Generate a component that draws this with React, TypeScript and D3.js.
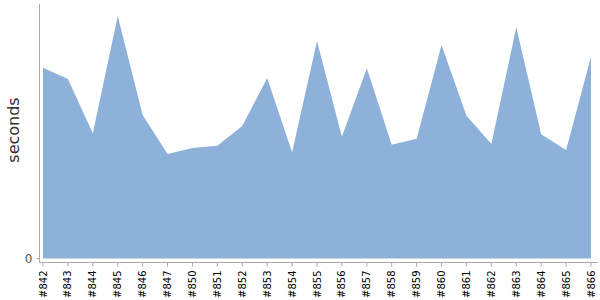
import React from "react";
import * as d3 from "d3";

const builds = ["#842","#843","#844","#845","#846","#847","#850","#851","#852","#853","#854","#855","#856","#857","#858","#859","#860","#861","#862","#863","#864","#865","#866"];
const seconds = [190.8,179.5,125.2,242.5,143.5,104.5,110.5,112.8,132.5,180.5,106.2,217.2,121.8,190.2,113.8,119.8,213.5,142.8,114.5,231.2,124.2,108.5,201.8];
const yTicks = [0];

export default function App() {
  const W = 600, H = 300;
  const axisX = 39.5;
  const x = d3.scalePoint<string>().domain(builds).range([43, 591]);
  const y = d3.scaleLinear().domain([0, 254.5]).range([258.5, 4]);
  const data = builds.map((b, i) => ({ b, v: seconds[i] }));
  const area = d3.area<{ b: string; v: number }>()
    .x(d => x(d.b)!)
    .y0(y(0))
    .y1(d => y(d.v))
    .curve(d3.curveLinear);
  const font = "'DejaVu Sans', Verdana, sans-serif";
  const xAxisY = 262.5;
  return (
    <svg width={W} height={H} style={{ position: "absolute", left: 0, top: 0, fontFamily: font }}>
      <path d={area(data) || ""} fill="#8eb1da" stroke="none" />
      <line x1={axisX} x2={axisX} y1={4} y2={xAxisY} stroke="#aaa" />
      {yTicks.map(t => (
        <g key={t}>
          <line x1={axisX - 3} x2={axisX} y1={y(t)} y2={y(t)} stroke="#aaa" />
          <text x={axisX - 7} y={y(t)} dy="0.35em" textAnchor="end" fontSize={12} fill="#555">{t}</text>
        </g>
      ))}
      <line x1={axisX} x2={598} y1={xAxisY} y2={xAxisY} stroke="#aaa" />
      {builds.map(b => (
        <g key={b} transform={`translate(${x(b)},${xAxisY})`}>
          <line x1={0} x2={0} y1={0} y2={4} stroke="#aaa" />
          <text transform="rotate(-90)" x={-8} y={0} dy="0.35em" textAnchor="end" fontSize={10} fill="#000">{b}</text>
        </g>
      ))}
      <text transform={`translate(13,130) rotate(-90)`} textAnchor="middle" dy="0.35em" fontSize={16} fill="#333">seconds</text>
    </svg>
  );
}
